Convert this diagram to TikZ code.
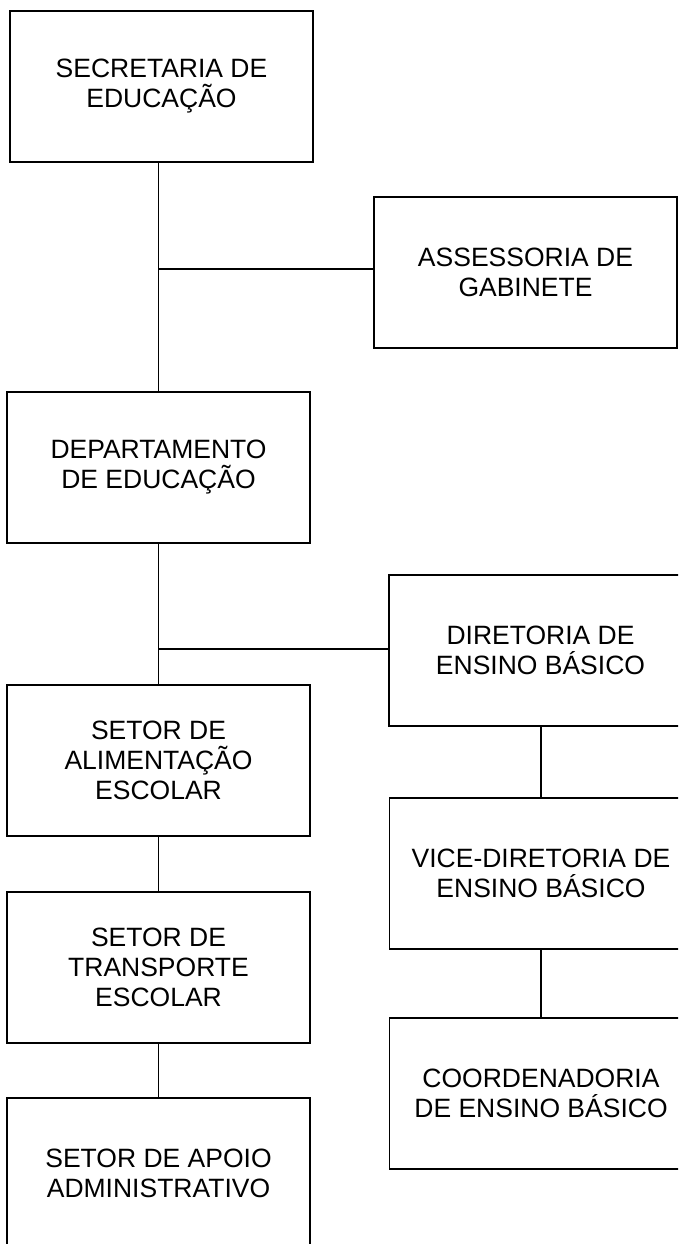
\documentclass[tikz,border=0pt]{standalone}
\usepackage{fontspec}
\setmainfont{Liberation Sans}
\begin{document}
\begin{tikzpicture}[x=1pt,y=-1pt,
  orgbox/.style={draw, line width=1.8pt, minimum width=303pt, minimum height=151pt,
    inner sep=0pt, align=center, font=\fontsize{26.5}{30}\selectfont},
  link/.style={line width=1.8pt}]
\clip (0,0) rectangle (678,1244);
\fill[white] (0,0) rectangle (678,1244);
\node[orgbox] (sec) at (161.5,86.5) {SECRETARIA DE\\EDUCAÇÃO};
\node[orgbox] (ass) at (525.5,272.5) {ASSESSORIA DE\\GABINETE};
\node[orgbox] (dep) at (158.5,467.5) {DEPARTAMENTO\\DE EDUCAÇÃO};
\node[orgbox] (dir) at (540.5,650.5) {DIRETORIA DE\\ENSINO BÁSICO};
\node[orgbox] (ali) at (158.5,760.5) {SETOR DE\\ALIMENTAÇÃO\\ESCOLAR};
\node[orgbox] (vic) at (541,873.5) {VICE-DIRETORIA DE\\ENSINO BÁSICO};
\node[orgbox] (tra) at (158.5,967.5) {SETOR DE\\TRANSPORTE\\ESCOLAR};
\node[orgbox] (coo) at (541,1093.5) {COORDENADORIA\\DE ENSINO BÁSICO};
\node[orgbox] (apo) at (158.5,1173.5) {SETOR DE APOIO\\ADMINISTRATIVO};
\coordinate (j1) at (158,269);
\coordinate (j2) at (158,649);
\draw[link] (sec.south -| dep.north) -- (dep.north);
\draw[link] (j1) -- (j1 -| ass.west);
\draw[link] (dep.south) -- (ali.north);
\draw[link] (j2) -- (j2 -| dir.west);
\draw[link] (ali.south) -- (tra.north);
\draw[link] (tra.south) -- (apo.north);
\draw[link] (dir.south -| vic.north) -- (vic.north);
\draw[link] (vic.south) -- (coo.north);
\end{tikzpicture}
\end{document}
